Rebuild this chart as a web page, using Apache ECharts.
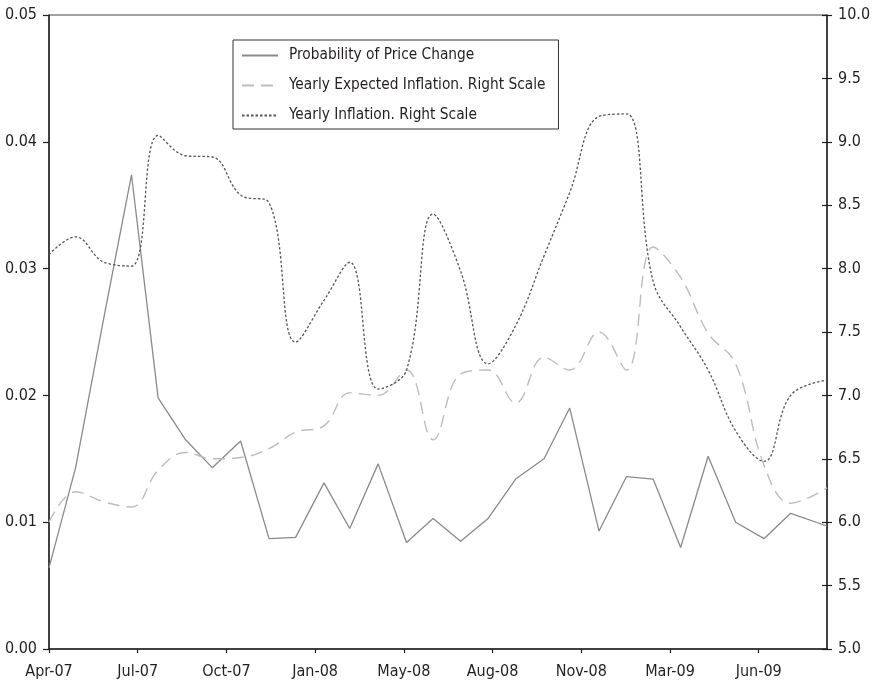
<!DOCTYPE html>
<html>
<head>
<meta charset="utf-8">
<script src="https://cdn.jsdelivr.net/npm/echarts@6/dist/echarts.min.js"></script>
<style>
html,body{margin:0;padding:0;background:#fff;}
#chart{width:876px;height:686px;}
</style>
</head>
<body>
<div id="chart"></div>
<script>
// Observation dates (as plotted on the date axis)
var dates = ['2007-04-01','2007-05-01','2007-06-02','2007-07-03','2007-08-02','2007-09-02','2007-10-02','2007-11-03','2007-12-05','2008-01-04','2008-02-05','2008-03-05','2008-04-06','2008-05-08','2008-06-07','2008-07-08','2008-08-08','2008-09-08','2008-10-10','2008-11-08','2008-12-11','2009-01-11','2009-02-10','2009-03-13','2009-04-13','2009-05-14','2009-06-15','2009-07-15','2009-08-25'];
// Probability of price change (left scale)
var probPriceChange = [0.0064,0.0143,0.0262,0.0374,0.0198,0.0165,0.0143,0.0164,0.0087,0.0088,0.0131,0.0095,0.0146,0.0084,0.0103,0.0085,0.0103,0.0134,0.0150,0.0190,0.0093,0.0136,0.0134,0.0080,0.0152,0.0100,0.0087,0.0107,0.0097];
// Yearly expected inflation (right scale)
var expectedInflation = [6.00,6.24,6.16,6.12,6.41,6.55,6.50,6.51,6.58,6.71,6.76,7.02,7.00,7.20,6.65,7.17,7.20,6.94,7.30,7.20,7.50,7.20,8.17,7.93,7.49,7.25,6.45,6.15,6.27];
// Yearly inflation (right scale)
var yearlyInflation = [8.11,8.25,8.05,8.02,9.05,8.89,8.88,8.58,8.52,7.42,7.75,8.05,7.05,7.20,8.43,7.98,7.25,7.55,8.10,8.60,9.20,9.22,7.90,7.54,7.20,6.72,6.48,7.00,7.12];
// Date-axis tick labels (one every 100 days from the start date)
var tickLabels = ['Apr-07','Jul-07','Oct-07','Jan-08','May-08','Aug-08','Nov-08','Mar-09','Jun-09'];
var seriesNames = ['Probability of Price Change','Yearly Expected Inflation. Right Scale','Yearly Inflation. Right Scale'];

var DAY = 86400000;
var start = Date.parse(dates[0]);
var dayOffsets = dates.map(function(d){ return Math.round((Date.parse(d) - start) / DAY); });
function pairs(vals){ return vals.map(function(v,i){ return [dayOffsets[i], v]; }); }

var FONT = "'Liberation Sans Narrow', 'DejaVu Sans Condensed', 'Roboto', sans-serif";
var FS = 16;
var TXT = '#231f20';
var AX = '#231f20';

var chart = echarts.init(document.getElementById('chart'), null, {renderer:'canvas'});
chart.setOption({
  animation: false,
  backgroundColor: '#ffffff',
  textStyle: {fontFamily: FONT},
  grid: {left: 49, right: 49, top: 15, bottom: 37, show: true, borderColor: '#444', borderWidth: 1, backgroundColor: 'transparent'},
  legend: {
    orient: 'vertical', left: 233, top: 40,
    padding: [8, 13, 6, 8],
    itemWidth: 36, itemHeight: 16, itemGap: 15,
    borderColor: '#333', borderWidth: 1,
    itemStyle: {opacity: 0},
    textStyle: {fontFamily: FONT, fontSize: 15.3, color: TXT, padding: [0,0,0,6]},
    data: seriesNames
  },
  xAxis: {
    type: 'value', min: 0, max: dayOffsets[dayOffsets.length-1], interval: 100,
    axisLine: {show: true, onZero: false, lineStyle: {color: AX, width: 1.5}},
    axisTick: {show: true, length: 4, inside: false, lineStyle: {color: AX, width: 1.2}},
    splitLine: {show: false},
    axisLabel: {
      margin: 15, fontSize: FS, color: TXT, fontFamily: FONT, showMaxLabel: false,
      formatter: function(v){ if (v % 100 !== 0) return ''; var k = Math.round(v/100); return tickLabels[k] || ''; }
    }
  },
  yAxis: [
    {
      type: 'value', position: 'left', min: 0, max: 0.05, interval: 0.01,
      axisLine: {show: true, lineStyle: {color: AX, width: 1.5}},
      axisTick: {show: true, length: 6, inside: false, lineStyle: {color: AX, width: 1.2}},
      splitLine: {show: false},
      axisLabel: {margin: 12, fontSize: FS, color: TXT, fontFamily: FONT, formatter: function(v){ return v.toFixed(2); }}
    },
    {
      type: 'value', position: 'right', min: 5, max: 10, interval: 0.5,
      axisLine: {show: true, lineStyle: {color: AX, width: 1.5}},
      axisTick: {show: true, length: 5, inside: false, lineStyle: {color: AX, width: 1.2}},
      splitLine: {show: false},
      axisLabel: {margin: 11, fontSize: FS, color: TXT, fontFamily: FONT, formatter: function(v){ return v.toFixed(1); }}
    },
    {
      type: 'value', position: 'right', min: 5, max: 10, interval: 0.5,
      axisLine: {show: false},
      axisTick: {show: true, length: 5, inside: true, lineStyle: {color: AX, width: 1.2}},
      splitLine: {show: false},
      axisLabel: {show: false}
    }
  ],
  series: [
    {
      name: seriesNames[0], type: 'line', yAxisIndex: 0, symbol: 'none', smooth: false,
      lineStyle: {color: '#8a8a8a', width: 1.3}, itemStyle: {color: '#8a8a8a'},
      data: pairs(probPriceChange)
    },
    {
      name: seriesNames[1], type: 'line', yAxisIndex: 1, symbol: 'none', smooth: 0.4,
      lineStyle: {color: '#bdbdbd', width: 1.4, type: [12, 7]}, itemStyle: {color: '#bdbdbd'},
      data: pairs(expectedInflation)
    },
    {
      name: seriesNames[2], type: 'line', yAxisIndex: 1, symbol: 'none', smooth: 0.4,
      lineStyle: {color: '#555555', width: 1.3, type: [2.5, 2]}, itemStyle: {color: '#555555'},
      data: pairs(yearlyInflation)
    }
  ]
});
</script>
</body>
</html>
